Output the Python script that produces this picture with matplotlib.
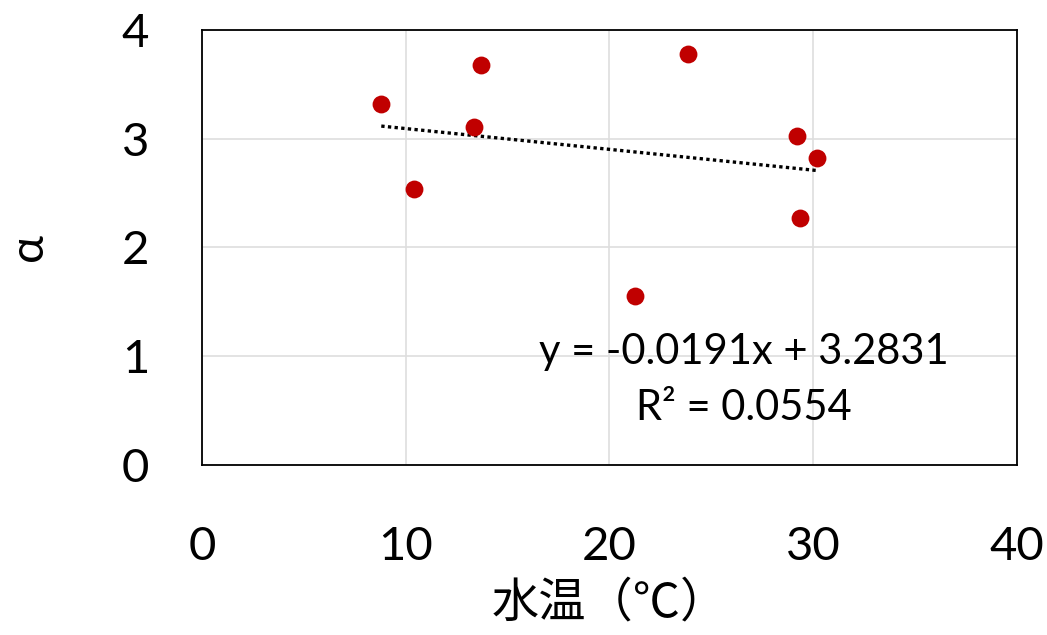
import matplotlib
matplotlib.use('Agg')
from matplotlib import pyplot as plt
import numpy as np

plt.rcParams['font.family'] = ['Lato', 'Noto Sans CJK JP', 'DejaVu Sans']

# water temperature (C) and alpha
temp = [8.80, 10.39, 13.35, 13.69, 21.27, 23.85, 29.20, 29.37, 30.18]
alpha = [3.32, 2.54, 3.11, 3.68, 1.55, 3.78, 3.02, 2.27, 2.82]

# trendline as printed on the chart
slope = -0.0191
icept = 3.2831
eq_text = 'y = -0.0191x + 3.2831'
r2_text = 'R² = 0.0554'

xticks = [0, 10, 20, 30, 40]
yticks = [0, 1, 2, 3, 4]

fig = plt.figure(figsize=(10.47, 6.35), dpi=100)
ax = fig.add_axes([0.193, 0.268, 0.778, 0.685])

ax.set_xlim(0, 40)
ax.set_ylim(0, 4)
ax.set_xticks(xticks)
ax.set_yticks(yticks)
ax.grid(True, color='#dedede', linewidth=1.2)
ax.set_axisbelow(True)

for s in ax.spines.values():
    s.set_color('black')
    s.set_linewidth(1.3)

ax.tick_params(length=0, labelsize=34)
ax.tick_params(axis='x', pad=44)
ax.tick_params(axis='y', pad=38)

tx = np.array([min(temp), max(temp)])
ax.plot(tx, slope * tx + icept, color='black', linestyle=(0, (1, 1)), linewidth=2.4)

ax.scatter(temp, alpha, s=165, color='#c00000', zorder=3, linewidths=0)

ax.text(26.6, 1.04, eq_text, fontsize=30, ha='center', va='center')
ax.text(26.6, 0.52, r2_text, fontsize=30, ha='center', va='center')

ax.set_xlabel('水温（℃）', fontsize=34, labelpad=8)
ax.set_ylabel('α', fontsize=34, labelpad=52)

fig.savefig('out.png', dpi=100)
